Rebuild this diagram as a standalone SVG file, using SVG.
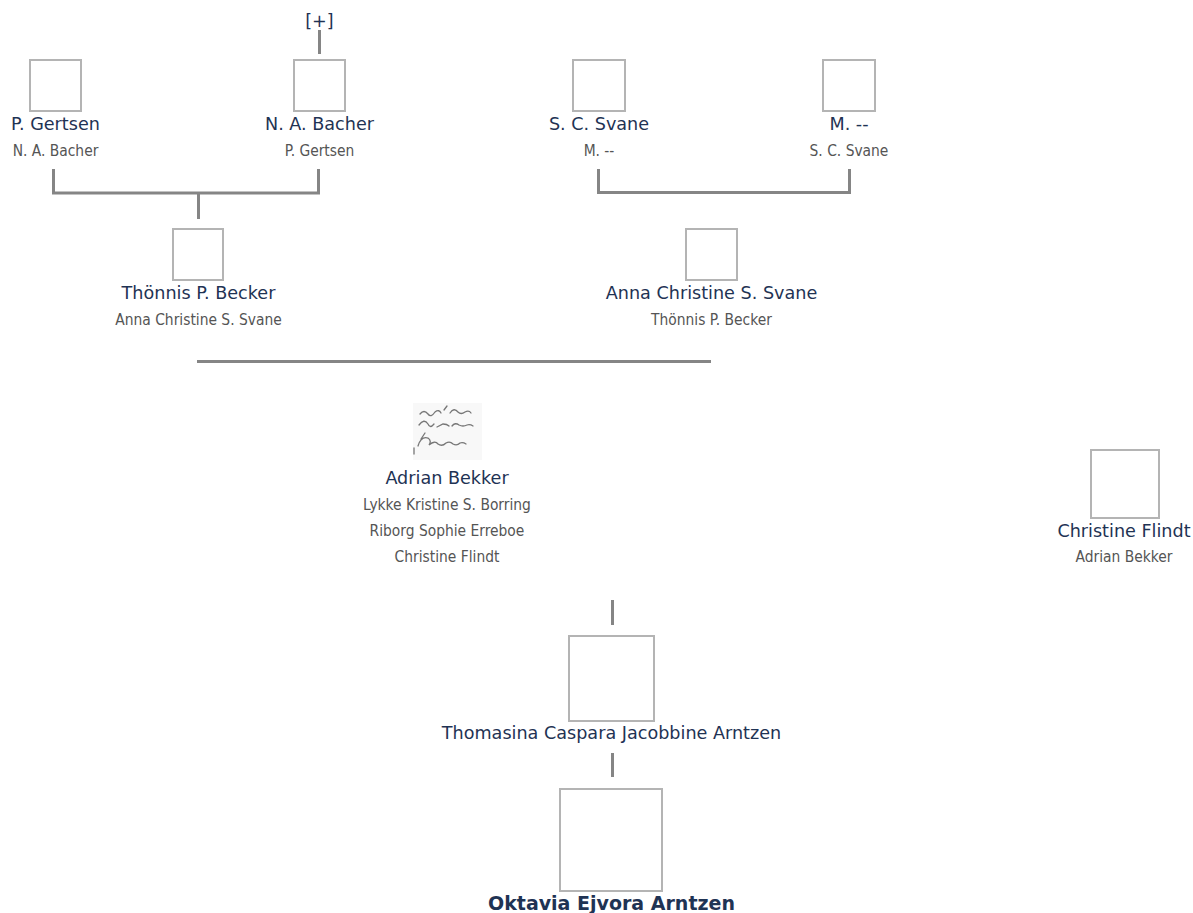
<svg xmlns="http://www.w3.org/2000/svg" width="1193" height="913" viewBox="0 0 1193 913">
<style>
.bg{fill:#ffffff}
.box{fill:#ffffff;stroke:#b4b4b4;stroke-width:2}
.nm{font-family:"DejaVu Sans",Verdana,sans-serif;font-size:17.6px;fill:#1f3354;text-anchor:middle}
.bold{font-weight:bold;font-size:19px}
.sub{font-family:"DejaVu Sans Condensed","DejaVu Sans",sans-serif;font-stretch:condensed;font-size:15.4px;fill:#555555;text-anchor:middle}
.ln{stroke:#858585;stroke-width:3;fill:none}
.scr{stroke:#777777;stroke-width:1.3;fill:none;stroke-linecap:round}
</style>
<rect class="bg" x="0" y="0" width="1193" height="913"/>
<g id="connectors">
  <path class="ln" d="M319.5 30 V54"/>
  <path class="ln" d="M53.5 169 V193 H318.5 V169"/>
  <path class="ln" d="M198.5 193 V219"/>
  <path class="ln" d="M598.5 169 V192.5 H849.5 V169"/>
  <path class="ln" d="M197 361.5 H711"/>
  <path class="ln" d="M612.5 600 V625"/>
  <path class="ln" d="M612.5 753 V777"/>
</g>
<g id="expand-bacher">
  <text class="nm" x="319.5" y="27">[+]</text>
</g>
<g id="p-gertsen">
  <rect class="box" x="30" y="60" width="51" height="51"/>
  <text class="nm" x="55.5" y="130">P. Gertsen</text>
  <text class="sub" x="55.5" y="156">N. A. Bacher</text>
</g>
<g id="n-a-bacher">
  <rect class="box" x="294" y="60" width="51" height="51"/>
  <text class="nm" x="319.5" y="130">N. A. Bacher</text>
  <text class="sub" x="319.5" y="156">P. Gertsen</text>
</g>
<g id="s-c-svane">
  <rect class="box" x="573" y="60" width="52" height="51"/>
  <text class="nm" x="599" y="130">S. C. Svane</text>
  <text class="sub" x="599" y="156">M. --</text>
</g>
<g id="m">
  <rect class="box" x="823" y="60" width="52" height="51"/>
  <text class="nm" x="849" y="130">M. --</text>
  <text class="sub" x="849" y="156">S. C. Svane</text>
</g>
<g id="thonnis-becker">
  <rect class="box" x="173" y="229" width="50" height="51"/>
  <text class="nm" x="198.5" y="299">Thönnis P. Becker</text>
  <text class="sub" x="198.5" y="325">Anna Christine S. Svane</text>
</g>
<g id="anna-svane">
  <rect class="box" x="686" y="229" width="51" height="51"/>
  <text class="nm" x="711.5" y="299">Anna Christine S. Svane</text>
  <text class="sub" x="711.5" y="325">Thönnis P. Becker</text>
</g>
<g id="adrian-bekker">
  <rect x="413" y="403" width="69" height="57" fill="#f8f8f8"/>
  <path class="scr" d="M420 414 q4 -5 8 0 q3 4 7 -2 q4 -3 6 1 M444 410 l3 -4 M450 413 q4 -6 8 -1 q3 3 7 0 q4 -2 6 1"/>
  <path class="scr" d="M419 425 q5 -7 9 -1 q2 5 6 0 M437 427 l6 -3 q4 0 6 2 M452 426 q3 -4 7 -1 q4 2 8 0 q3 -1 6 1"/>
  <path class="scr" d="M418 446 q3 -10 10 -8 q4 3 1 7 q6 -5 9 -1 q4 3 8 -1 q4 -2 7 1 q4 2 7 -1 q3 -1 6 1 M425 433 l-4 6 M414 448 v6"/>
  <text class="nm" x="447" y="484">Adrian Bekker</text>
  <text class="sub" x="447" y="510">Lykke Kristine S. Borring</text>
  <text class="sub" x="447" y="536">Riborg Sophie Erreboe</text>
  <text class="sub" x="447" y="562">Christine Flindt</text>
</g>
<g id="christine-flindt">
  <rect class="box" x="1091" y="450" width="68" height="68"/>
  <text class="nm" x="1124" y="537">Christine Flindt</text>
  <text class="sub" x="1124" y="562">Adrian Bekker</text>
</g>
<g id="thomasina-arntzen">
  <rect class="box" x="569" y="636" width="85" height="85"/>
  <text class="nm" x="611.5" y="739">Thomasina Caspara Jacobbine Arntzen</text>
</g>
<g id="oktavia-arntzen">
  <rect class="box" x="560" y="789" width="102" height="102"/>
  <text class="nm bold" x="611.5" y="909.5">Oktavia Ejvora Arntzen</text>
</g>
</svg>
